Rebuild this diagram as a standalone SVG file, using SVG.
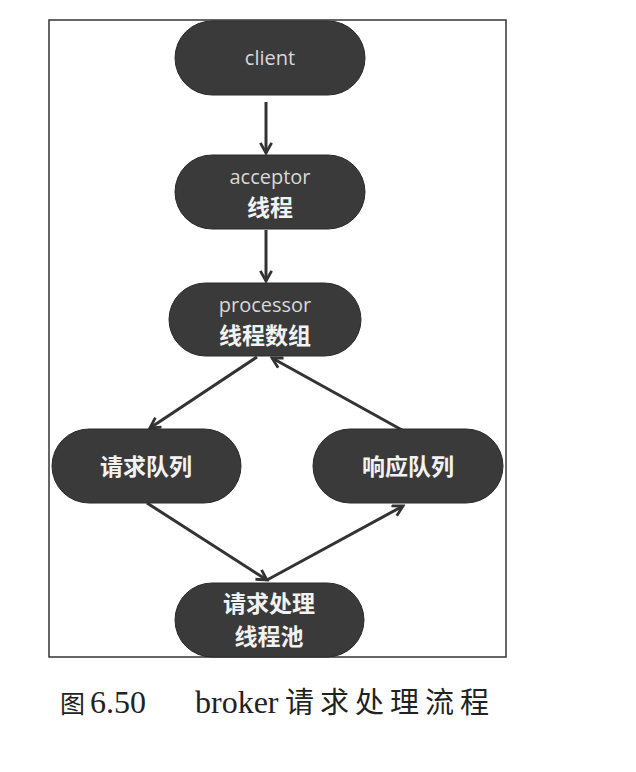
<svg xmlns="http://www.w3.org/2000/svg" width="636" height="772" viewBox="0 0 636 772">
<style>
.node rect{fill:#3a3a3a;stroke:#2a2a2a;stroke-width:1}
.en{font-family:"Open Sans","Liberation Sans",sans-serif;font-size:20px;fill:#d8d8d8;text-anchor:middle}
.zh{font-family:"Noto Sans CJK SC","Liberation Sans",sans-serif;font-size:23px;font-weight:bold;fill:#f2f2f2;text-anchor:middle}
.conn line{stroke:#333;stroke-width:3;fill:none}
.cap{font-family:"Liberation Serif","Noto Sans CJK SC",serif;fill:#222}
</style>
<defs>
<marker id="ah" viewBox="0 0 12 12" refX="10" refY="6" markerWidth="4.5" markerHeight="4.5" orient="auto" markerUnits="strokeWidth">
<path d="M1,1 L10,6 L1,11" fill="none" stroke="#333" stroke-width="2.5"/>
</marker>
</defs>
<rect x="49" y="20" width="457" height="637" fill="#fff" stroke="#333" stroke-width="1.5"/>
<g class="conn">
<line x1="266" y1="102" x2="266" y2="153" marker-end="url(#ah)"/>
<line x1="266" y1="230" x2="266" y2="281" marker-end="url(#ah)"/>
<line x1="257" y1="357" x2="150" y2="428" marker-end="url(#ah)"/>
<line x1="402" y1="430" x2="272" y2="358" marker-end="url(#ah)"/>
<line x1="147" y1="503" x2="267" y2="580" marker-end="url(#ah)"/>
<line x1="267" y1="580" x2="403" y2="506" marker-end="url(#ah)"/>
</g>
<g id="client" class="node">
<rect x="175" y="21" width="190" height="74" rx="37"/>
<text class="en" x="270" y="65">client</text>
</g>
<g id="acceptor" class="node">
<rect x="175" y="155" width="190" height="74" rx="37"/>
<text class="en" x="270" y="184">acceptor</text>
<text class="zh" x="270" y="216">线程</text>
</g>
<g id="processor" class="node">
<rect x="169" y="283" width="192" height="73" rx="36.5"/>
<text class="en" x="265" y="312">processor</text>
<text class="zh" x="265" y="344">线程数组</text>
</g>
<g id="reqqueue" class="node">
<rect x="52" y="429" width="189" height="74" rx="37"/>
<text class="zh" x="146" y="475">请求队列</text>
</g>
<g id="respqueue" class="node">
<rect x="313" y="429" width="190" height="74" rx="37"/>
<text class="zh" x="408" y="475">响应队列</text>
</g>
<g id="handler" class="node">
<rect x="175" y="583" width="189" height="74" rx="37"/>
<text class="zh" x="269" y="612">请求处理</text>
<text class="zh" x="269" y="645">线程池</text>
</g>
<text class="cap" x="60" y="713" font-size="25">图</text>
<text class="cap" x="90" y="713" font-size="32">6.50</text>
<text class="cap" x="195" y="713" font-size="32">broker</text>
<text class="cap" x="285" y="713" font-size="29" letter-spacing="6">请求处理流程</text>
</svg>
